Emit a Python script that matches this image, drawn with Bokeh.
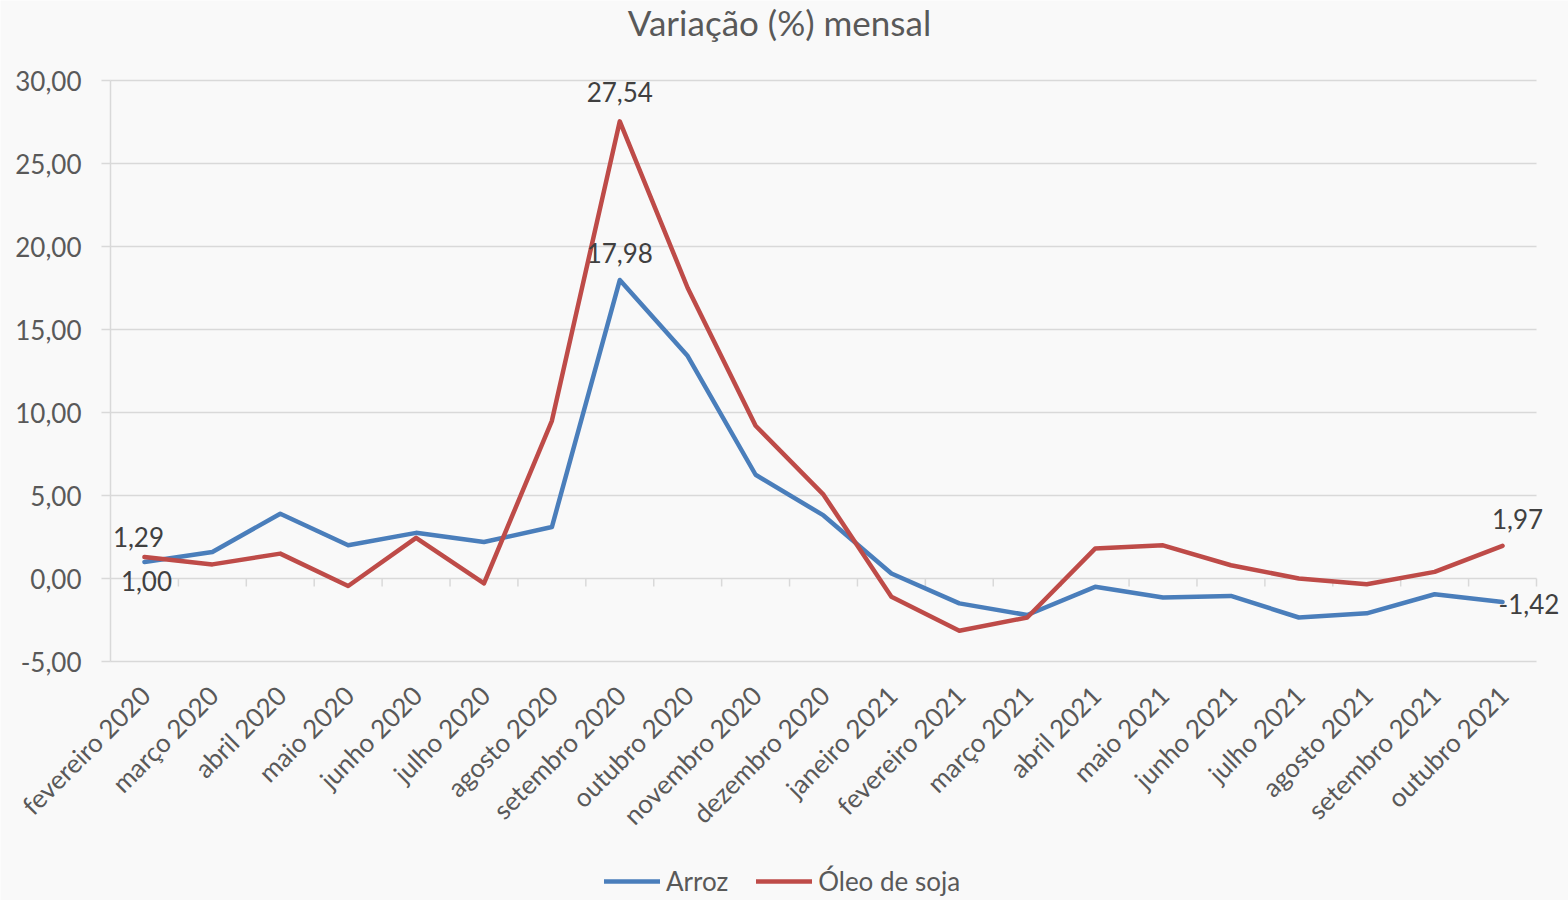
import math
from bokeh.plotting import figure
from bokeh.models import (ColumnDataSource, Legend, LegendItem, Range1d, LabelSet, Label)
from bokeh.core.properties import value
from bokeh.embed import file_html
from bokeh.resources import INLINE

title = "Variação (%) mensal"
months = ["fevereiro 2020", "março 2020", "abril 2020", "maio 2020", "junho 2020",
          "julho 2020", "agosto 2020", "setembro 2020", "outubro 2020", "novembro 2020",
          "dezembro 2020", "janeiro 2021", "fevereiro 2021", "março 2021", "abril 2021",
          "maio 2021", "junho 2021", "julho 2021", "agosto 2021", "setembro 2021",
          "outubro 2021"]
arroz = [1.00, 1.60, 3.90, 2.00, 2.75, 2.20, 3.10, 17.98, 13.40, 6.25, 3.80,
         0.30, -1.50, -2.20, -0.50, -1.15, -1.05, -2.35, -2.10, -0.95, -1.42]
oleo = [1.29, 0.85, 1.50, -0.45, 2.45, -0.30, 9.50, 27.54, 17.50, 9.20, 5.05,
        -1.10, -3.15, -2.35, 1.80, 2.00, 0.80, 0.00, -0.35, 0.40, 1.97]
y_ticks = [-5, 0, 5, 10, 15, 20, 25, 30]

FONT = "Lato"
GRID = "#d9d9d9"
TXT = "#595959"
LAB = "#404040"
BLUE = "#4a7ebb"
RED = "#be4b48"

# layout (pixels)
W, H = 1568, 900
PLOT_LEFT = 110       # left edge of the plotting area
PLOT_TOP = 80         # top edge of the plotting area
PLOT_H = 581          # height of the plotting area
CAT_W = 1426 / 21     # width of one category

fmt = lambda v: f"{v:.2f}".replace(".", ",")

n = len(months)
xs = list(range(n))
x_lo, x_hi = -0.5, n - 0.5
y_lo, y_hi = y_ticks[0], y_ticks[-1]
ppu = PLOT_H / (y_hi - y_lo)
view_top = y_hi + PLOT_TOP / ppu
view_bot = y_lo - (H - PLOT_TOP - PLOT_H) / ppu
view_left = x_lo - PLOT_LEFT / CAT_W
view_right = x_lo + (W - PLOT_LEFT) / CAT_W

p = figure(width=W, height=H, output_backend="svg", toolbar_location=None,
           x_axis_location=None, y_axis_location=None,
           x_range=Range1d(view_left, view_right), y_range=Range1d(view_bot, view_top),
           min_border=0, background_fill_color="#f9f9f9", border_fill_color="#f9f9f9",
           outline_line_color=None)
p.grid.visible = False

# horizontal gridlines over the category area
p.segment(x0=[x_lo] * len(y_ticks), x1=[x_hi] * len(y_ticks), y0=y_ticks, y1=y_ticks,
          line_color=GRID, line_width=1.5, level="underlay")
# value axis line, ticks and labels
p.segment(x0=[x_lo], x1=[x_lo], y0=[y_lo], y1=[y_hi], line_color=GRID, line_width=1.5,
          level="underlay")
p.ray(x=[x_lo] * len(y_ticks), y=y_ticks, length=9, length_units="screen", angle=math.pi,
      line_color=GRID, line_width=1.5, level="underlay")
ytl = ColumnDataSource(dict(x=[x_lo] * len(y_ticks), y=y_ticks, text=[fmt(v) for v in y_ticks]))
p.add_layout(LabelSet(x="x", y="y", text="text", source=ytl, x_offset=-29, y_offset=0,
                      text_align="right", text_baseline="middle", text_font=value(FONT),
                      text_font_size="26px", text_color=TXT))

# category boundary ticks hanging from the zero line
p.ray(x=[i + 0.5 for i in xs], y=[0] * n, length=8, length_units="screen",
      angle=-math.pi / 2, line_color=GRID, line_width=1.5, level="underlay")

# category labels below the plotting area
cat_src = ColumnDataSource(dict(x=xs, y=[y_lo] * n, text=months))
p.add_layout(LabelSet(x="x", y="y", text="text", source=cat_src, x_offset=1, y_offset=-29,
                      angle=math.pi / 4, text_align="right", text_baseline="middle",
                      text_font=value(FONT), text_font_size="26px", text_color=TXT))

src = ColumnDataSource(dict(x=xs, arroz=arroz, oleo=oleo))
r1 = p.line("x", "arroz", source=src, line_color=BLUE, line_width=4.5, line_join="round", line_cap="round")
r2 = p.line("x", "oleo", source=src, line_color=RED, line_width=4.5, line_join="round", line_cap="round")

# data labels
last = n - 1
peak = oleo.index(max(oleo))
lab_c = ColumnDataSource(dict(
    x=[peak, peak, 0, 0, last],
    y=[oleo[peak], arroz[peak], oleo[0], arroz[0], oleo[last]],
    text=[fmt(oleo[peak]), fmt(arroz[peak]), fmt(oleo[0]), fmt(arroz[0]), fmt(oleo[last])],
    dx=[0, 0, -6, 2, 15],
    dy=[29, 27, 20, -19, 27],
))
p.add_layout(LabelSet(x="x", y="y", text="text", source=lab_c, x_offset="dx", y_offset="dy",
                      text_align="center", text_baseline="middle", text_font=value(FONT),
                      text_font_size="26px", text_color=LAB))
lab_l = ColumnDataSource(dict(x=[last], y=[arroz[last]], text=[fmt(arroz[last])]))
p.add_layout(LabelSet(x="x", y="y", text="text", source=lab_l, x_offset=-4, y_offset=-2,
                      text_align="left", text_baseline="middle", text_font=value(FONT),
                      text_font_size="26px", text_color=LAB))

# chart title
p.add_layout(Label(x=779, y=H - 21, x_units="screen", y_units="screen", text=title,
                   text_align="center", text_baseline="alphabetic", text_font=FONT,
                   text_font_size="35px", text_color=TXT))

legend = Legend(items=[LegendItem(label="Arroz", renderers=[r1]),
                       LegendItem(label="Óleo de soja", renderers=[r2])],
                orientation="horizontal", location=(604, 3),
                label_text_font=FONT, label_text_font_size="26px", label_text_color=TXT,
                glyph_width=56, glyph_height=20, spacing=28, label_standoff=6,
                border_line_color=None, background_fill_alpha=0, padding=0, margin=0)
p.add_layout(legend, "center")

open("out.html", "w").write(file_html(p, INLINE))
